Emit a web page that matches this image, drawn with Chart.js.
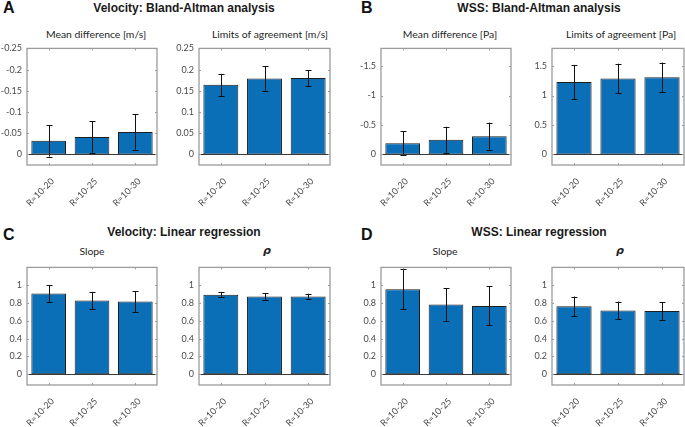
<!DOCTYPE html>
<html>
<head>
<meta charset="utf-8">
<script src="https://cdn.jsdelivr.net/npm/chart.js@4.4.0/dist/chart.umd.min.js"></script>
<style>
  html, body { margin:0; padding:0; background:#fff; }
  #wrap { position:relative; width:685px; height:427px; overflow:hidden; }
  canvas.pnl { position:absolute; }
  .head { position:absolute; font-family:"Liberation Sans", Arial, sans-serif; font-weight:bold; font-size:12px; line-height:16px; color:#1a1a1a; white-space:nowrap; transform:translateX(-50%); }
  .letter { position:absolute; font-family:"Liberation Sans", Arial, sans-serif; font-weight:bold; font-size:16px; line-height:16px; color:#111; }
  .sub { position:absolute; font-family:Lato, "Open Sans", sans-serif; font-size:10.4px; line-height:12px; color:#262626; white-space:nowrap; transform:translateX(-50%); }
  .sub.rho { font-family:"DejaVu Sans", sans-serif; font-weight:bold; font-style:italic; font-size:11px; }
</style>
</head>
<body>
<div id="wrap">
  <div class="letter" style="left:3px; top:0px;">A</div>
  <div class="head" style="left:184px; top:0px;">Velocity: Bland-Altman analysis</div>
  <div class="letter" style="left:361px; top:0px;">B</div>
  <div class="head" style="left:539px; top:0px;">WSS: Bland-Altman analysis</div>
  <div class="letter" style="left:3px; top:227px;">C</div>
  <div class="head" style="left:184px; top:224px;">Velocity: Linear regression</div>
  <div class="letter" style="left:361px; top:227px;">D</div>
  <div class="head" style="left:539px; top:224px;">WSS: Linear regression</div>
</div>
<script>
// categorias e dados
const categories = ['R=10-20', 'R=10-25', 'R=10-30'];

const velDiff    = [-0.032, -0.041, -0.053];
const velDiffErr = [0.037, 0.037, 0.042];
const velLoa     = [0.164, 0.179, 0.180];
const velLoaErr  = [0.026, 0.029, 0.019];

const wssDiff    = [-0.19, -0.25, -0.31];
const wssDiffErr = [0.20, 0.22, 0.23];
const wssLoa     = [1.23, 1.29, 1.31];
const wssLoaErr  = [0.29, 0.25, 0.25];

const velSlope    = [0.906, 0.828, 0.816];
const velSlopeErr = [0.097, 0.097, 0.117];
const velRho      = [0.894, 0.872, 0.873];
const velRhoErr   = [0.030, 0.037, 0.032];

const wssSlope    = [0.954, 0.784, 0.768];
const wssSlopeErr = [0.223, 0.184, 0.220];
const wssRho      = [0.763, 0.717, 0.710];
const wssRhoErr   = [0.110, 0.100, 0.100];

// ticks do eixo y
const velDiffTicks = [-0.25, -0.2, -0.15, -0.1, -0.05, 0];
const velLoaTicks  = [0, 0.05, 0.1, 0.15, 0.2, 0.25];
const wssDiffTicks = [-1.5, -1, -0.5, 0];
const wssLoaTicks  = [0, 0.5, 1, 1.5];
const regTicks     = [0, 0.2, 0.4, 0.6, 0.8, 1];

const BAR = '#0b6fb8', EDGE = '#1e1e1e', FRAME = '#9b9b9b', TXT = '#4a4a4a';
const TICK_FONT = { family:'Lato, "Open Sans", sans-serif', size:9 };
const Y_W = 28, X_H = 45, PAD_T = 4, PAD_R = 2;

// plugin: moldura estilo matlab, ticks internos, linha do zero e barras de erro
const matlabBox = {
	id: 'matlabBox',
	afterDatasetsDraw(chart, args, opts){
		const {ctx, chartArea:{left,right,top,bottom}, scales:{x,y}} = chart;
		ctx.save();
		// barras de erro
		const meta = chart.getDatasetMeta(0);
		const vals = chart.data.datasets[0].data;
		const errs = opts.errors || [];
		ctx.strokeStyle = '#111'; ctx.lineWidth = 1;
		meta.data.forEach((bar, i)=>{
			const e = errs[i]; if (e == null) return;
			const xc = Math.round(bar.x) + 0.5;
			const y1 = y.getPixelForValue(vals[i] - e), y2 = y.getPixelForValue(vals[i] + e);
			ctx.beginPath();
			ctx.moveTo(xc, y1); ctx.lineTo(xc, y2);
			ctx.moveTo(xc-3, Math.round(y1)+0.5); ctx.lineTo(xc+3, Math.round(y1)+0.5);
			ctx.moveTo(xc-3, Math.round(y2)+0.5); ctx.lineTo(xc+3, Math.round(y2)+0.5);
			ctx.stroke();
		});
		// linha do zero
		const y0 = Math.round(y.getPixelForValue(0)) + 0.5;
		ctx.strokeStyle = '#3a3a3a';
		ctx.beginPath(); ctx.moveTo(left, y0); ctx.lineTo(right, y0); ctx.stroke();
		// moldura
		ctx.strokeStyle = FRAME; ctx.lineWidth = 1.3;
		ctx.strokeRect(left, top, right-left, bottom-top);
		// ticks internos
		ctx.lineWidth = 1;
		ctx.beginPath();
		y.ticks.forEach(t=>{
			const py = Math.round(y.getPixelForValue(t.value)) + 0.5;
			ctx.moveTo(left, py); ctx.lineTo(left+2, py);
			ctx.moveTo(right, py); ctx.lineTo(right-2, py);
		});
		categories.forEach((c, i)=>{
			const px = Math.round(x.getPixelForValue(i)) + 0.5;
			ctx.moveTo(px, top); ctx.lineTo(px, top+2);
			ctx.moveTo(px, bottom); ctx.lineTo(px, bottom-2);
		});
		ctx.stroke();
		ctx.restore();
	}
};

const panels = [
	{ box:[27, 42, 157, 165],  title:'Mean difference [m/s]',    tx:96,  ty:28, data:velDiff,  err:velDiffErr,  ticks:velDiffTicks, min:-0.25, max:0.025, rev:true },
	{ box:[199, 42, 330, 165], title:'Limits of agreement [m/s]', tx:270, ty:28, data:velLoa,   err:velLoaErr,   ticks:velLoaTicks,  min:-0.025, max:0.25 },
	{ box:[381, 42, 511, 165], title:'Mean difference [Pa]',      tx:450, ty:28, data:wssDiff,  err:wssDiffErr,  ticks:wssDiffTicks, min:-1.8, max:0.18, rev:true },
	{ box:[552, 42, 684, 165], title:'Limits of agreement [Pa]',  tx:621, ty:28, data:wssLoa,   err:wssLoaErr,   ticks:wssLoaTicks,  min:-0.18, max:1.8 },
	{ box:[27, 261, 157, 385], title:'Slope', tx:92,  ty:245, data:velSlope, err:velSlopeErr, ticks:regTicks, min:-0.12, max:1.2 },
	{ box:[199, 261, 330, 385], title:'ρ', rho:true, tx:267, ty:245, data:velRho, err:velRhoErr, ticks:regTicks, min:-0.12, max:1.2 },
	{ box:[381, 261, 511, 385], title:'Slope', tx:445, ty:245, data:wssSlope, err:wssSlopeErr, ticks:regTicks, min:-0.12, max:1.2 },
	{ box:[552, 261, 684, 385], title:'ρ', rho:true, tx:620, ty:245, data:wssRho, err:wssRhoErr, ticks:regTicks, min:-0.12, max:1.2 }
];

const wrap = document.getElementById('wrap');
panels.forEach(p=>{
	const [l,t,r,b] = p.box;
	const sub = document.createElement('div');
	sub.className = 'sub' + (p.rho ? ' rho' : '');
	sub.style.left = p.tx + 'px'; sub.style.top = p.ty + 'px';
	sub.textContent = p.title;
	wrap.appendChild(sub);

	const cv = document.createElement('canvas');
	cv.className = 'pnl';
	const w = (r-l) + Y_W + PAD_R, h = (b-t) + PAD_T + X_H;
	cv.style.left = (l - Y_W) + 'px'; cv.style.top = (t - PAD_T) + 'px';
	cv.style.width = w + 'px'; cv.style.height = h + 'px';
	cv.width = w; cv.height = h;
	wrap.appendChild(cv);

	new Chart(cv.getContext('2d'), {
		type:'bar',
		data:{ labels:categories, datasets:[{ data:p.data, backgroundColor:BAR, borderColor:EDGE, borderWidth:1, borderSkipped:false, barPercentage:0.8, categoryPercentage:1.0 }] },
		options:{
			responsive:false, animation:false, devicePixelRatio:1,
			layout:{ padding:{ top:PAD_T, right:PAD_R, left:0, bottom:0 } },
			plugins:{ legend:{display:false}, tooltip:{enabled:false}, matlabBox:{ errors:p.err } },
			scales:{
				x:{ offset:true, grid:{display:false, drawTicks:false}, border:{display:false},
					ticks:{ color:TXT, font:TICK_FONT, minRotation:45, maxRotation:45, padding:11, labelOffset:4 },
					afterFit(ax){ ax.height = X_H; } },
				y:{ min:p.min, max:p.max, reverse:!!p.rev, grid:{display:false, drawTicks:false}, border:{display:false},
					afterBuildTicks(ax){ ax.ticks = p.ticks.map(v=>({value:v})); },
					ticks:{ color:TXT, font:TICK_FONT, padding:5, callback:(v)=>String(v) },
					afterFit(ax){ ax.width = Y_W; } }
			}
		},
		plugins:[matlabBox]
	});
});
</script>
</body>
</html>
